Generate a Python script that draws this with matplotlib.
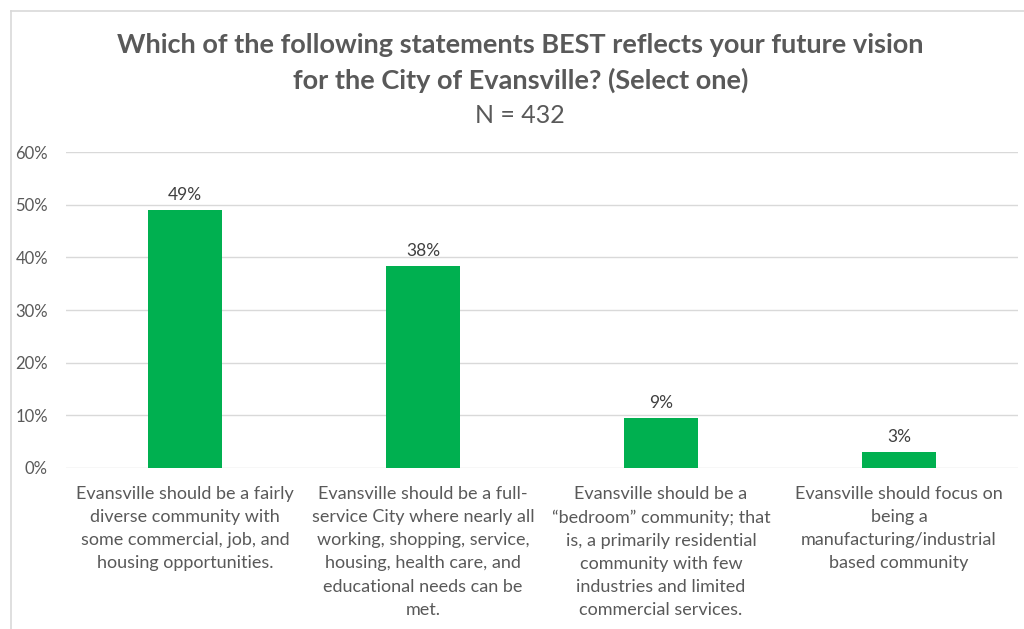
import numpy as np
import matplotlib.pyplot as plt
from matplotlib.ticker import PercentFormatter

plt.rcParams['font.family'] = ['Lato', 'DejaVu Sans']

# survey responses, N = 432
categories = [
    "Evansville should be a fairly\ndiverse community with\nsome commercial, job, and\nhousing opportunities.",
    "Evansville should be a full-\nservice City where nearly all\nworking, shopping, service,\nhousing, health care, and\neducational needs can be\nmet.",
    "Evansville should be a\n\u201cbedroom\u201d community; that\nis, a primarily residential\ncommunity with few\nindustries and limited\ncommercial services.",
    "Evansville should focus on\nbeing a\nmanufacturing/industrial\nbased community",
]
counts = [212, 166, 41, 13]
n_total = 432
pct = [100 * c / n_total for c in counts]

grey = '#595959'
green = '#00B050'

fig = plt.figure(figsize=(10.24, 6.29), dpi=100)
ax = fig.add_axes([0.0645, 0.256, 0.9295, 0.502])

x = np.arange(len(categories))
ax.bar(x, pct, width=0.31, color=green, zorder=3)
for xi, p in zip(x, pct):
    ax.text(xi, p + 1.3, f"{p:.0f}%", ha='center', va='bottom', fontsize=12.5, color='#404040')

ax.set_xlim(-0.5, len(categories) - 0.5)
ax.set_ylim(0, 60)
ax.set_yticks(range(0, 61, 10))
ax.yaxis.set_major_formatter(PercentFormatter(decimals=0))
ax.grid(axis='y', color='#D9D9D9', linewidth=1, zorder=0)
for s in ax.spines.values():
    s.set_visible(False)
ax.tick_params(axis='y', length=0, labelsize=12, labelcolor=grey, pad=13)
ax.tick_params(axis='x', length=0, labelsize=13, labelcolor=grey, pad=13)
ax.set_xticks(x)
ax.set_xticklabels(categories, linespacing=1.55, va='top')

fig.text(0.508, 0.929, "Which of the following statements BEST reflects your future vision",
         ha='center', va='center', fontsize=19.5, fontweight='bold', color=grey)
fig.text(0.508, 0.873, "for the City of Evansville? (Select one)",
         ha='center', va='center', fontsize=19.5, fontweight='bold', color=grey)
fig.text(0.508, 0.817, f"N = {n_total}", ha='center', va='center', fontsize=18, color=grey)

# chart frame edges
fig.add_artist(plt.Line2D([11 / 1024, 1], [1 - 11 / 629] * 2, color='#D9D9D9', linewidth=1.2))
fig.add_artist(plt.Line2D([11 / 1024] * 2, [0, 1 - 11 / 629], color='#D9D9D9', linewidth=1.2))

fig.savefig('out.png', dpi=100)
